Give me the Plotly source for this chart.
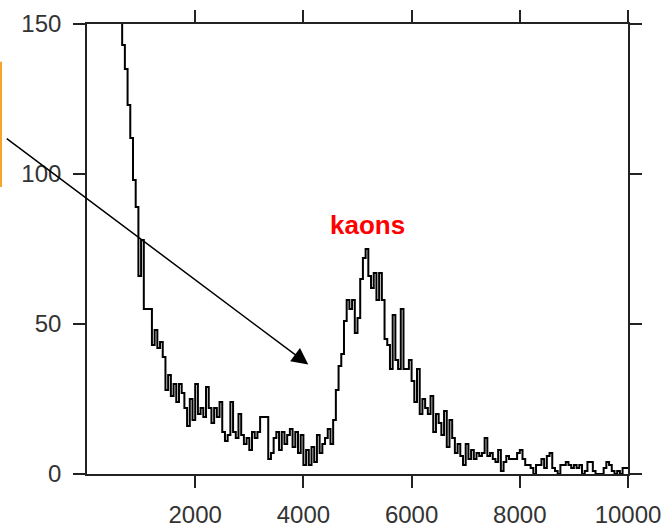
import numpy as np
import plotly.graph_objects as go

# Histogram: counts per 50-unit bin, starting at 550
bin_start = 550
bin_width = 50
counts = [
    180, 165, 143, 135, 123, 112, 98, 89, 66, 78,
    55, 55, 55, 43, 48, 42, 44, 39, 28, 33,
    26, 30, 24, 30, 27, 22, 16, 25, 18, 30,
    20, 22, 19, 29, 22, 17, 22, 19, 24, 14,
    11, 13, 24, 14, 12, 20, 13, 10, 12, 8,
    14, 12, 14, 19, 19, 19, 5, 7, 12, 14,
    8, 14, 10, 13, 15, 9, 14, 7, 13, 3,
    8, 3, 9, 4, 13, 7, 10, 12, 15, 10,
    18, 28, 36, 40, 51, 58, 55, 58, 47, 52,
    65, 72, 75, 66, 62, 67, 58, 67, 58, 45,
    43, 35, 53, 38, 35, 55, 35, 35, 38, 31,
    24, 35, 20, 25, 22, 20, 26, 14, 20, 17,
    13, 21, 9, 18, 12, 7, 10, 6, 3, 10,
    5, 8, 5, 7, 6, 7, 12, 6, 7, 5,
    4, 8, 1, 4, 6, 5, 5, 5, 7, 8,
    5, 3, 3, 2, 0, 3, 3, 5, 2, 6,
    7, 2, 1, 0, 3, 3, 4, 3, 2, 3,
    2, 3, 0, 1, 4, 4, 1, 0, 0, 0,
    2, 4, 3, 1, 0, 1, 0, 2, 2,
]

x_ticks = [2000, 4000, 6000, 8000, 10000]
y_ticks = [0, 50, 100, 150]
x_range = [0, 10000]
y_range = [0, 150]

peak_label = "kaons"
peak_label_pos = (5185, 83)
arrow_tip = (4090, 36.5)

# Bin left edges, plus the closing edge so the last step is drawn
edges = bin_start + bin_width * np.arange(len(counts) + 1)
ys = counts + [counts[-1]]

fig = go.Figure()
fig.add_trace(go.Scatter(
    x=edges, y=ys, mode="lines",
    line=dict(shape="hv", color="black", width=2),
    showlegend=False, hoverinfo="skip",
))

axis_common = dict(
    showgrid=False, zeroline=False, automargin=False,
    showline=True, linecolor="#222", linewidth=1.6,
    ticks="outside", ticklen=12, tickwidth=1.6, tickcolor="#222",
    mirror="ticks",
    tickfont=dict(family="Arial, Liberation Sans, sans-serif", size=24, color="#333"),
)

fig.update_xaxes(range=x_range, tickvals=x_ticks, ticklabelstandoff=6,
                 ticktext=[str(v) for v in x_ticks], **axis_common)
fig.update_yaxes(range=y_range, tickvals=y_ticks, ticklabelstandoff=7,
                 ticktext=[str(v) for v in y_ticks], **axis_common)

fig.add_annotation(
    x=peak_label_pos[0], y=peak_label_pos[1], text="<b>%s</b>" % peak_label,
    showarrow=False, font=dict(family="Arial, Liberation Sans, sans-serif",
                               size=26, color="#FF0000"),
    xanchor="center", yanchor="middle",
)

fig.add_annotation(
    x=arrow_tip[0], y=arrow_tip[1], text="", showarrow=True,
    ax=-303, ay=-227, arrowhead=2, arrowsize=2.2, arrowwidth=1.5,
    arrowcolor="black", standoff=0,
)

# Orange edge stroke at the far left
fig.add_shape(type="line", xref="paper", yref="paper",
              x0=-0.159, x1=-0.159, y0=0.638, y1=0.916,
              line=dict(color="#F4A42A", width=2))

fig.update_layout(
    width=666, height=529,
    margin=dict(l=87, r=38, t=24, b=55),
    paper_bgcolor="white", plot_bgcolor="white",
)

fig.write_html("out.html")
